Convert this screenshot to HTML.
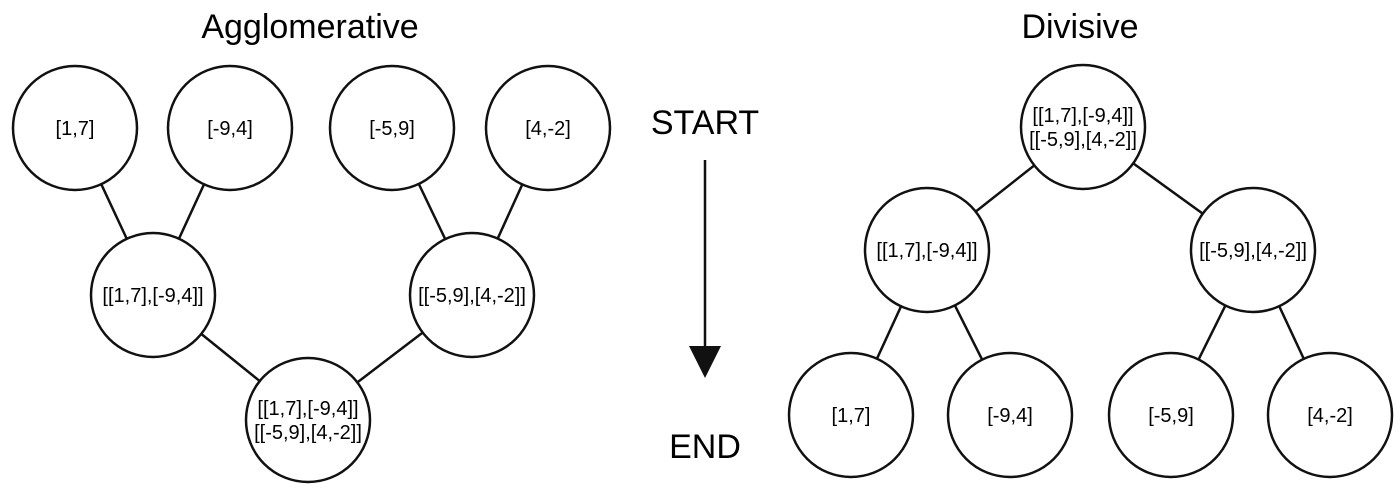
<!DOCTYPE html>
<html><head><meta charset="utf-8"><style>
body{margin:0;background:#fff;}
svg{display:block;font-family:"Liberation Sans",Arial,sans-serif;}
</style></head><body>
<svg width="1400" height="490" viewBox="0 0 1400 490">
<g id="edges" stroke="#111" stroke-width="2.5"></g>
<g id="nodes"></g>
<text x="310" y="38" font-size="34" text-anchor="middle">Agglomerative</text>
<text x="1080" y="38" font-size="34" text-anchor="middle">Divisive</text>
<text x="705" y="134" font-size="34" text-anchor="middle">START</text>
<text x="705" y="458" font-size="34" text-anchor="middle">END</text>
<line x1="705" y1="160" x2="705" y2="350" stroke="#111" stroke-width="2.5"/>
<polygon points="689,346 721,346 705,378" fill="#111"/>
</svg>
<script>
const R=62;
const nodes=[
 {id:'a1',x:75,y:128,t:['[1,7]']},
 {id:'a2',x:230,y:128,t:['[-9,4]']},
 {id:'a3',x:392,y:128,t:['[-5,9]']},
 {id:'a4',x:548,y:128,t:['[4,-2]']},
 {id:'a5',x:153,y:295,t:['[[1,7],[-9,4]]']},
 {id:'a6',x:472,y:295,t:['[[-5,9],[4,-2]]']},
 {id:'a7',x:308,y:420,t:['[[1,7],[-9,4]]','[[-5,9],[4,-2]]']},
 {id:'d1',x:1083,y:127,t:['[[1,7],[-9,4]]','[[-5,9],[4,-2]]']},
 {id:'d2',x:927,y:250,t:['[[1,7],[-9,4]]']},
 {id:'d3',x:1253,y:250,t:['[[-5,9],[4,-2]]']},
 {id:'d4',x:851,y:415,t:['[1,7]']},
 {id:'d5',x:1010,y:415,t:['[-9,4]']},
 {id:'d6',x:1171,y:415,t:['[-5,9]']},
 {id:'d7',x:1330,y:415,t:['[4,-2]']}
];
const edges=[['a1','a5'],['a2','a5'],['a3','a6'],['a4','a6'],['a5','a7'],['a6','a7'],
 ['d1','d2'],['d1','d3'],['d2','d4'],['d2','d5'],['d3','d6'],['d3','d7']];
const NS='http://www.w3.org/2000/svg';
const by={};nodes.forEach(n=>by[n.id]=n);
const eg=document.getElementById('edges'),ng=document.getElementById('nodes');
edges.forEach(([a,b])=>{
 const l=document.createElementNS(NS,'line');
 l.setAttribute('x1',by[a].x);l.setAttribute('y1',by[a].y);
 l.setAttribute('x2',by[b].x);l.setAttribute('y2',by[b].y);
 
 
 eg.appendChild(l);
});
nodes.forEach(n=>{
 const g=document.createElementNS(NS,'g');
 
 
 const c=document.createElementNS(NS,'circle');
 c.setAttribute('cx',n.x);c.setAttribute('cy',n.y);c.setAttribute('r',R);
 c.setAttribute('fill','#fff');c.setAttribute('stroke','#111');c.setAttribute('stroke-width','2.5');
 g.appendChild(c);
 const lh=24,y0=n.y-(n.t.length-1)*lh/2+7;
 n.t.forEach((s,i)=>{
  const t=document.createElementNS(NS,'text');
  t.setAttribute('x',n.x);t.setAttribute('y',y0+i*lh);
  t.setAttribute('font-size','20');t.setAttribute('text-anchor','middle');
  
  
  t.textContent=s;g.appendChild(t);
 });
 ng.appendChild(g);
});
</script>
</body></html>
